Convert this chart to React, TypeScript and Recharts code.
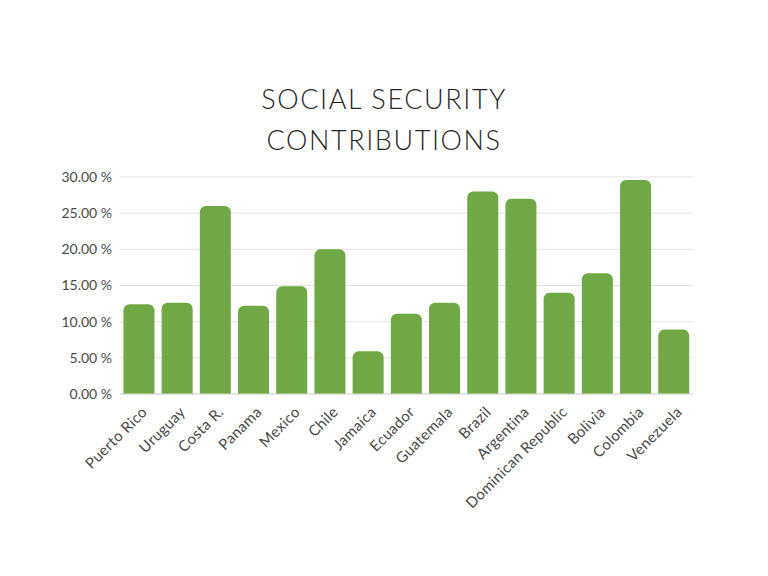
import { BarChart, Bar, XAxis, YAxis, CartesianGrid } from "recharts";

const countries = [
  "Puerto Rico",
  "Uruguay",
  "Costa R.",
  "Panama",
  "Mexico",
  "Chile",
  "Jamaica",
  "Ecuador",
  "Guatemala",
  "Brazil",
  "Argentina",
  "Dominican Republic",
  "Bolivia",
  "Colombia",
  "Venezuela",
];

const contributions = [12.4, 12.6, 26.0, 12.2, 14.9, 20.0, 5.9, 11.1, 12.6, 28.0, 27.0, 14.0, 16.7, 29.6, 8.9];

const yTicks = [0, 5, 10, 15, 20, 25, 30];

const data = countries.map((name, i) => ({ name, value: contributions[i] }));

const FONT = "Lato, 'Open Sans', sans-serif";

const CountryTick = (props: any) => {
  const { x, y, payload } = props;
  return (
    <g transform={`translate(${x + 9},${y + 11})`}>
      <text
        transform="rotate(-45)"
        textAnchor="end"
        fill="#4a4a4a"
        fontSize={15}
        letterSpacing={0.3}
        fontFamily={FONT}
      >
        {payload.value}
      </text>
    </g>
  );
};

export default function App() {
  return (
    <div style={{ position: "absolute", left: 0, top: 0, width: 768, height: 576, background: "#fff" }}>
      <div
        style={{
          position: "absolute",
          left: 0,
          top: 78,
          width: 768,
          textAlign: "center",
          fontFamily: FONT,
          fontSize: 27,
          lineHeight: "41px",
          letterSpacing: 1.6,
          color: "#262626",
          fontWeight: 300,
        }}
      >
        SOCIAL SECURITY
        <br />
        CONTRIBUTIONS
      </div>
      <BarChart
        width={768}
        height={576}
        data={data}
        margin={{ top: 177, right: 75, bottom: 62, left: 0 }}
        barCategoryGap="9%"
      >
        <CartesianGrid vertical={false} stroke="#e3e3e3" />
        <XAxis
          dataKey="name"
          interval={0}
          height={120}
          tick={<CountryTick />}
          tickLine={false}
          axisLine={{ stroke: "#d9d9d9" }}
        />
        <YAxis
          width={120}
          domain={[0, 30]}
          ticks={yTicks}
          tickFormatter={(v: number) => `${v.toFixed(2)} %`}
          tick={{ fill: "#4a4a4a", fontSize: 14, fontFamily: FONT }}
          tickLine={false}
          axisLine={false}
          tickSize={0}
          tickMargin={8}
        />
        <Bar dataKey="value" fill="#70a845" radius={[6, 6, 0, 0]} isAnimationActive={false} />
      </BarChart>
    </div>
  );
}
